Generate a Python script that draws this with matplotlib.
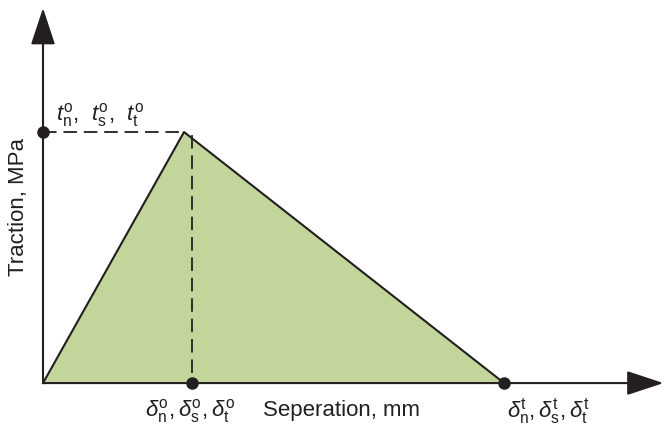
import numpy as np
import matplotlib.pyplot as plt

plt.rcParams['font.family'] = 'Liberation Sans'
plt.rcParams['mathtext.fontset'] = 'custom'
plt.rcParams['mathtext.rm'] = 'Liberation Sans'
plt.rcParams['mathtext.it'] = 'Liberation Sans:italic'

# bilinear traction-separation law (normalised units)
separation = [0.0, 1.0, 3.27]
traction = [0.0, 1.0, 0.0]
delta_o_mark = 1.057   # dashed marker for onset separation
t_o = 1.0

ink = '#231f20'
green = '#c2d69b'

fig = plt.figure(figsize=(6.65, 4.26), dpi=100)
ax = fig.add_axes([0, 0, 1, 1])
ax.set_xlim(-0.305, 4.411)
ax.set_ylim(-0.171, 1.526)
ax.axis('off')

# shaded triangle
ax.fill(separation, traction, color=green, zorder=1)
ax.plot(separation, traction, color=ink, lw=1.5, zorder=3)

# dashed guides
ax.plot([0, separation[1]], [t_o, t_o], color=ink, lw=1.3, ls=(0, (7.5, 3.8)), zorder=2)
ax.plot([delta_o_mark, delta_o_mark], [0.99, 0], color=ink, lw=1.3, ls=(0, (7.5, 3.8)), zorder=2)

# axes with arrows
arrow = dict(arrowstyle='-|>,head_length=2.3,head_width=0.76', mutation_scale=10,
             lw=1.5, color=ink, shrinkA=0, shrinkB=0)
ax.annotate('', xy=(4.40, 0), xytext=(0, 0), arrowprops=arrow, zorder=4)
ax.annotate('', xy=(0, 1.494), xytext=(0, 0), arrowprops=arrow, zorder=4)

# key points
ax.plot([0, delta_o_mark, separation[2]], [t_o, 0, 0], 'o', color=ink, ms=8, zorder=5)

# labels
ax.text(-0.177, 0.70, 'Traction, MPa', rotation=90, fontsize=16, color=ink,
        ha='center', va='center')
ax.text(2.12, -0.108, 'Seperation, mm', fontsize=16, color=ink, ha='center', va='center')
ax.text(0.09, 1.068,
        r'$t_\mathrm{n}^\mathrm{o}$,  $t_\mathrm{s}^\mathrm{o}$,  $t_\mathrm{t}^\mathrm{o}$',
        fontsize=16, color=ink, ha='left', va='center')
ax.text(1.04, -0.112,
        r'$\delta_\mathrm{n}^\mathrm{o},\delta_\mathrm{s}^\mathrm{o},\delta_\mathrm{t}^\mathrm{o}$',
        fontsize=16, color=ink, ha='center', va='center')
ax.text(3.58, -0.112,
        r'$\delta_\mathrm{n}^\mathrm{t},\delta_\mathrm{s}^\mathrm{t},\delta_\mathrm{t}^\mathrm{t}$',
        fontsize=16, color=ink, ha='center', va='center')

fig.savefig('out.png', dpi=100)
